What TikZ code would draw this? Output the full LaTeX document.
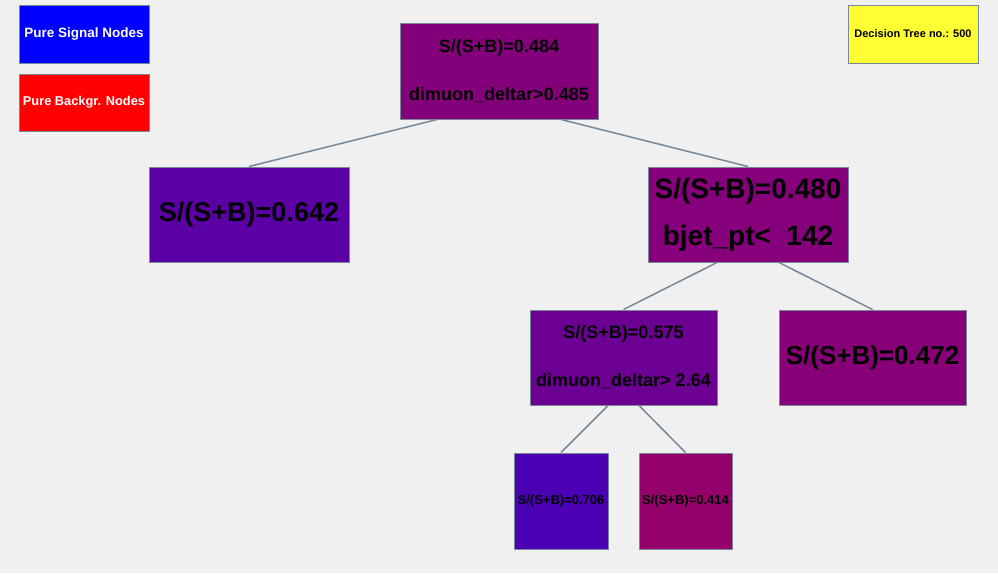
\documentclass[tikz,border=0pt]{standalone}
\usepackage{fontspec}
\setmainfont{Liberation Sans}
\usetikzlibrary{positioning}

\definecolor{bgcol}{RGB}{240,240,240}
\definecolor{linecol}{RGB}{119,136,153}
\definecolor{sigcol}{RGB}{0,0,255}
\definecolor{bkgcol}{RGB}{255,0,0}
\definecolor{treecol}{RGB}{255,255,51}
\definecolor{purA}{RGB}{132,0,123}
\definecolor{purB}{RGB}{91,0,164}
\definecolor{purC}{RGB}{133,0,122}
\definecolor{purD}{RGB}{108,0,147}
\definecolor{purE}{RGB}{135,0,120}
\definecolor{purF}{RGB}{75,0,180}
\definecolor{purG}{RGB}{149,0,106}

\begin{document}
\begin{tikzpicture}[x=1pt,y=-1pt,
	box/.style={draw=linecol,line width=1pt,inner sep=0pt,align=center,text=black},
	legend/.style={box,minimum width=130pt,minimum height=58pt},
	split/.style={box,font=\bfseries\fontsize{18}{48}\selectfont},
	bigsplit/.style={box,font=\bfseries\fontsize{28}{47}\selectfont},
	leaf/.style={box,font=\bfseries\fontsize{27}{32}\selectfont},
	smallleaf/.style={box,font=\bfseries\fontsize{13}{16}\selectfont,minimum width=94pt,minimum height=96pt},
	edge/.style={draw=linecol,line width=1.5pt}]
\fill[bgcol] (0,0) rectangle (998,573);
\useasboundingbox (0,0) rectangle (998,573);

% legend
\node[legend,fill=sigcol,text=white,font=\bfseries\fontsize{13.5}{16}\selectfont] (sig) at (84,34) {Pure Signal Nodes};
\node[legend,fill=bkgcol,text=white,font=\bfseries\fontsize{12.8}{16}\selectfont,minimum height=57pt] (bkg) at (84,102.5) {Pure Backgr. Nodes};
\node[legend,fill=treecol,font=\bfseries\fontsize{11}{14}\selectfont] (treeno) at (913,34) {Decision Tree no.: 500};

% tree
\node[split,fill=purA,minimum width=198pt,minimum height=96pt] (root) at (499,71) {S/(S+B)=0.484\\dimuon\_deltar>0.485};
\node[leaf,fill=purB,minimum width=200pt,minimum height=95pt] (left) at (249,214.5) {S/(S+B)=0.642};
\node[bigsplit,fill=purC,minimum width=200pt,minimum height=95pt] (right) at (748,214.5) {S/(S+B)=0.480\\bjet\_pt<~~142};
\node[split,fill=purD,minimum width=187pt,minimum height=95pt] (rl) at (623.5,357.5) {S/(S+B)=0.575\\dimuon\_deltar> 2.64};
\node[leaf,fill=purE,font=\bfseries\fontsize{26}{32}\selectfont,minimum width=187pt,minimum height=95pt] (rr) at (872.5,357.5) {S/(S+B)=0.472};
\node[smallleaf,fill=purF] (rll) at (561,501) {S/(S+B)=0.706};
\node[smallleaf,fill=purG,minimum width=93pt] (rlr) at (685.5,501) {S/(S+B)=0.414};

\draw[edge] ([xshift=-62pt]root.south) -- (left.north);
\draw[edge] ([xshift=62pt]root.south) -- (right.north);
\draw[edge] ([xshift=-31pt]right.south) -- (rl.north);
\draw[edge] ([xshift=31pt]right.south) -- (rr.north);
\draw[edge] ([xshift=-15.5pt]rl.south) -- (rll.north);
\draw[edge] ([xshift=15.5pt]rl.south) -- (rlr.north);
\end{tikzpicture}
\end{document}
